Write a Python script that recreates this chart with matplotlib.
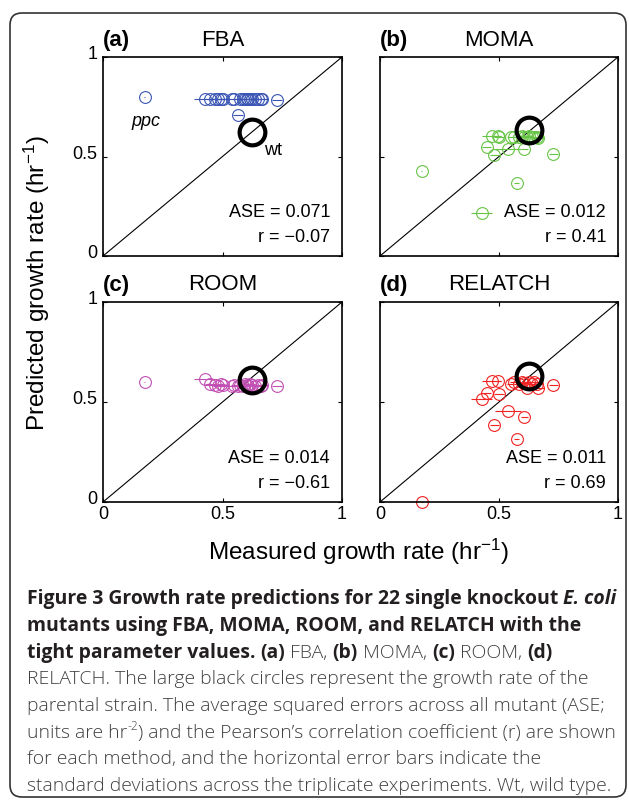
import matplotlib
matplotlib.use("Agg")
import matplotlib.pyplot as plt
from matplotlib.patches import FancyBboxPatch
from matplotlib.transforms import IdentityTransform, ScaledTranslation

# === data ===
# measured growth rate of the 22 knockouts and their std (triplicates)
measured = [0.175, 0.427, 0.448, 0.469, 0.481, 0.494, 0.500, 0.539, 0.550, 0.565, 0.574,
            0.585, 0.595, 0.603, 0.606, 0.616, 0.625, 0.638, 0.648, 0.660, 0.665, 0.728]
measured_sd = [0.002, 0.045, 0.02, 0.04, 0.02, 0.015, 0.02, 0.055, 0.015, 0.02, 0.012,
               0.02, 0.015, 0.02, 0.015, 0.02, 0.015, 0.02, 0.015, 0.02, 0.025, 0.02]

pred_fba = [0.80, 0.79, 0.79, 0.79, 0.79, 0.79, 0.79, 0.79, 0.79, 0.71, 0.79,
            0.79, 0.79, 0.79, 0.79, 0.79, 0.79, 0.79, 0.79, 0.79, 0.79, 0.785]
pred_moma = [0.429, 0.214, 0.55, 0.605, 0.508, 0.605, 0.60, 0.536, 0.60, 0.60, 0.365,
             0.60, 0.605, 0.60, 0.536, 0.60, 0.605, 0.60, 0.60, 0.60, 0.595, 0.511]
pred_room = [0.598, 0.613, 0.59, 0.585, 0.58, 0.59, 0.585, 0.58, 0.585, 0.58, 0.585,
             0.58, 0.59, 0.585, 0.58, 0.59, 0.585, 0.58, 0.585, 0.58, 0.585, 0.58]
pred_relatch = [0.0, 0.517, 0.545, 0.604, 0.386, 0.604, 0.54, 0.453, 0.59, 0.60, 0.316,
                0.59, 0.60, 0.595, 0.423, 0.57, 0.60, 0.59, 0.60, 0.59, 0.57, 0.584]

wt_measured = 0.625
wt_pred = [0.625, 0.632, 0.612, 0.628]

methods = ["FBA", "MOMA", "ROOM", "RELATCH"]
letters = ["(a)", "(b)", "(c)", "(d)"]
ase = ["0.071", "0.012", "0.014", "0.011"]
r_vals = ["\u22120.07", "0.41", "\u22120.61", "0.69"]
colors = ["#3a55b4", "#66c444", "#c24fb4", "#f02222"]
preds = [pred_fba, pred_moma, pred_room, pred_relatch]

plt.rcParams['font.family'] = ['Liberation Sans', 'DejaVu Sans']
plt.rcParams['mathtext.fontset'] = 'custom'
plt.rcParams['mathtext.rm'] = 'Liberation Sans'
plt.rcParams['mathtext.default'] = 'regular'

W, H = 629, 800
fig = plt.figure(figsize=(W / 100, H / 100), dpi=100)


def box(x0, y0, x1, y1):
    return [x0 / W, 1 - y1 / H, (x1 - x0) / W, (y1 - y0) / H]


boxes = [box(103, 57, 342, 256), box(380, 57, 618, 256),
         box(103, 302, 342, 502), box(380, 302, 618, 502)]
lift = ScaledTranslation(0, 3 / 72, fig.dpi_scale_trans)

for i in range(4):
    ax = fig.add_axes(boxes[i])
    c = colors[i]
    ax.plot([0, 1], [0, 1], color="black", lw=0.8)
    eb = ax.errorbar(measured, preds[i], xerr=measured_sd, fmt="o", ms=8.5,
                     mfc="none", mec=c, mew=0.8, ecolor=c, elinewidth=0.8, capsize=0)
    eb.lines[0].set_clip_on(False)
    for b in eb.lines[2]:
        b.set_clip_on(False)
    ax.plot(wt_measured, wt_pred[i], "o", ms=18.5, mfc="none", mec="black", mew=3, zorder=5)
    ax.set_xlim(0, 1)
    ax.set_ylim(0, 1)
    ax.set_xticks([0, 0.5, 1])
    ax.set_yticks([0, 0.5, 1])
    ax.set_xticklabels(["0", "0.5", "1"])
    ax.set_yticklabels(["0", "0.5", "1"])
    ax.tick_params(direction="in", top=True, right=True, length=3, width=0.8,
                   labelsize=13)
    ax.tick_params(axis="x", pad=3)
    ax.tick_params(axis="y", pad=4)
    for lab in ax.get_yticklabels():
        lab.set_transform(lab.get_transform() + lift)
    if i % 2 == 1:
        ax.tick_params(labelleft=False)
    if i < 2:
        ax.tick_params(labelbottom=False)
    for s in ax.spines.values():
        s.set_linewidth(1.2)
    ax.text(0.0, 1.085, letters[i], transform=ax.transAxes, ha="left", va="center",
            fontsize=16, fontweight="bold")
    ax.text(0.5, 1.085, methods[i], transform=ax.transAxes, ha="center", va="center",
            fontsize=16)
    ax.text(0.95, 0.218, "ASE = " + ase[i], transform=ax.transAxes, ha="right",
            va="center", fontsize=13)
    ax.text(0.95, 0.092, "r = " + r_vals[i], transform=ax.transAxes, ha="right",
            va="center", fontsize=13)
    if i == 0:
        ax.text(0.18, 0.675, "ppc", ha="center", va="center", fontsize=13, style="italic")
        ax.text(0.71, 0.53, "wt", ha="center", va="center", fontsize=13)

fig.text(358 / W, 1 - 552 / H, "Measured growth rate (hr$^{-1}$)", ha="center",
         va="center", fontsize=17.5)
fig.text(37 / W, 1 - 283 / H, "Predicted growth rate (hr$^{-1}$)", ha="center",
         va="center", fontsize=17.5, rotation=90)

# rounded frame around the figure
frame = FancyBboxPatch((10, 3), 616, 784, boxstyle="round,pad=0,rounding_size=12",
                       transform=IdentityTransform(), fill=False, lw=1.2, ec="#333333")
fig.add_artist(frame)

# === caption ===
B, BI, N, SUP = "b", "bi", "n", "sup"
caption = [
    [("Figure 3 Growth rate predictions for 22 single knockout ", B), ("E. coli", BI)],
    [("mutants using FBA, MOMA, ROOM, and RELATCH with the", B)],
    [("tight parameter values. ", B), ("(a)", B), (" FBA, ", N), ("(b)", B),
     (" MOMA, ", N), ("(c)", B), (" ROOM, ", N), ("(d)", B)],
    [("RELATCH. The large black circles represent the growth rate of the", N)],
    [("parental strain. The average squared errors across all mutant (ASE;", N)],
    [("units are hr", N), ("-2", SUP), (") and the Pearson\u2019s correlation coefficient (r) are shown", N)],
    [("for each method, and the horizontal error bars indicate the", N)],
    [("standard deviations across the triplicate experiments. Wt, wild type.", N)],
]
baselines = [604, 631, 658, 684, 711, 738, 764, 791]
cap_font = ["Open Sans", "DejaVu Sans"]
renderer = fig.canvas.get_renderer()


def style_kw(kind, size):
    if kind == B:
        return dict(fontsize=size, fontweight="bold", color="#231f20")
    if kind == BI:
        return dict(fontsize=size, fontweight="bold", style="italic", color="#231f20")
    if kind == SUP:
        return dict(fontsize=size * 0.62, fontweight="light", color="#404042")
    return dict(fontsize=size, fontweight="light", color="#404042")


def draw_line(runs, x0, y, size, draw=True):
    x = x0
    for s, kind in runs:
        yy = y - (0.42 * size * 100 / 72 if kind == SUP else 0)
        t = fig.text(x / W, 1 - yy / H, s, ha="left", va="baseline",
                     family=cap_font, **style_kw(kind, size))
        x += t.get_window_extent(renderer).width
        if not draw:
            t.remove()
    return x - x0


# scale the caption so the first line spans the same width as in the figure
ref = draw_line(caption[0], 27, baselines[0], 12, draw=False)
cap_size = 12 * 588 / ref
for runs, y in zip(caption, baselines):
    draw_line(runs, 27, y, cap_size)

fig.savefig("out.png", dpi=100, facecolor="white")
plt.close(fig)
